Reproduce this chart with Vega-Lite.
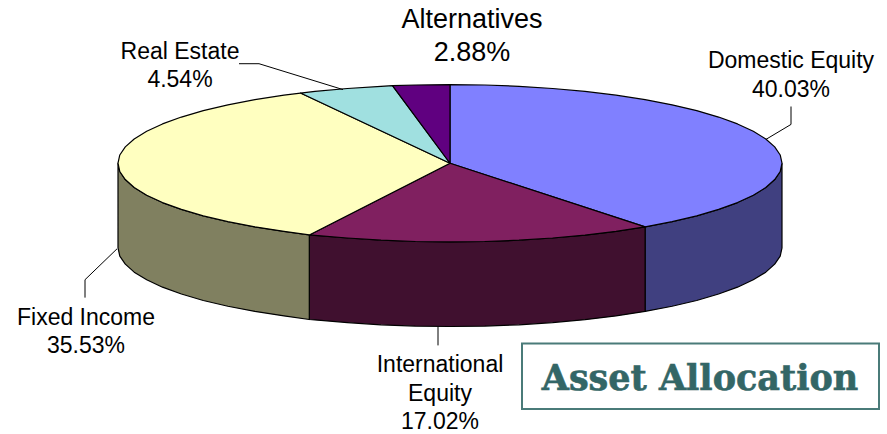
{"$schema":"https://vega.github.io/schema/vega-lite/v6.json","width":887,"height":434,"autosize":{"type":"fit","contains":"padding"},"padding":0,"background":"white","view":{"stroke":null},
"datasets":{
"sides":[
{"slice":"Domestic Equity side","i":0,"x":782,"y":163},{"slice":"Domestic Equity side","i":1,"x":780.2,"y":171.3},{"slice":"Domestic Equity side","i":2,"x":774.7,"y":179.4},{"slice":"Domestic Equity side","i":3,"x":765.8,"y":187.4},{"slice":"Domestic Equity side","i":4,"x":753.3,"y":195.1},{"slice":"Domestic Equity side","i":5,"x":737.5,"y":202.5},{"slice":"Domestic Equity side","i":6,"x":718.6,"y":209.4},{"slice":"Domestic Equity side","i":7,"x":696.7,"y":215.9},{"slice":"Domestic Equity side","i":8,"x":672.1,"y":221.7},{"slice":"Domestic Equity side","i":9,"x":645.1,"y":226.9},{"slice":"Domestic Equity side","i":10,"x":645.1,"y":311.9},{"slice":"Domestic Equity side","i":11,"x":672.1,"y":306.7},{"slice":"Domestic Equity side","i":12,"x":696.7,"y":300.9},{"slice":"Domestic Equity side","i":13,"x":718.6,"y":294.4},{"slice":"Domestic Equity side","i":14,"x":737.5,"y":287.5},{"slice":"Domestic Equity side","i":15,"x":753.3,"y":280.1},{"slice":"Domestic Equity side","i":16,"x":765.8,"y":272.4},{"slice":"Domestic Equity side","i":17,"x":774.7,"y":264.4},{"slice":"Domestic Equity side","i":18,"x":780.2,"y":256.3},{"slice":"Domestic Equity side","i":19,"x":782,"y":248},{"slice":"Domestic Equity side","i":20,"x":782,"y":163},
{"slice":"International Equity side","i":0,"x":645.1,"y":226.9},{"slice":"International Equity side","i":1,"x":616,"y":231.4},{"slice":"International Equity side","i":2,"x":585,"y":235.2},{"slice":"International Equity side","i":3,"x":552.6,"y":238.1},{"slice":"International Equity side","i":4,"x":519,"y":240.3},{"slice":"International Equity side","i":5,"x":484.7,"y":241.6},{"slice":"International Equity side","i":6,"x":450,"y":242},{"slice":"International Equity side","i":7,"x":415.3,"y":241.6},{"slice":"International Equity side","i":8,"x":381,"y":240.3},{"slice":"International Equity side","i":9,"x":347.4,"y":238.1},{"slice":"International Equity side","i":10,"x":315,"y":235.4},{"slice":"International Equity side","i":11,"x":309.3,"y":235},{"slice":"International Equity side","i":12,"x":309.3,"y":320},{"slice":"International Equity side","i":13,"x":315,"y":320.4},{"slice":"International Equity side","i":14,"x":347.4,"y":323.1},{"slice":"International Equity side","i":15,"x":381,"y":325.3},{"slice":"International Equity side","i":16,"x":415.3,"y":326.6},{"slice":"International Equity side","i":17,"x":450,"y":327},{"slice":"International Equity side","i":18,"x":484.7,"y":326.6},{"slice":"International Equity side","i":19,"x":519,"y":325.3},{"slice":"International Equity side","i":20,"x":552.6,"y":323.1},{"slice":"International Equity side","i":21,"x":585,"y":320.2},{"slice":"International Equity side","i":22,"x":616,"y":316.4},{"slice":"International Equity side","i":23,"x":645.1,"y":311.9},{"slice":"International Equity side","i":24,"x":645.1,"y":226.9},
{"slice":"Fixed Income side","i":0,"x":309.3,"y":235},{"slice":"Fixed Income side","i":1,"x":284,"y":231.4},{"slice":"Fixed Income side","i":2,"x":254.9,"y":226.9},{"slice":"Fixed Income side","i":3,"x":227.9,"y":221.7},{"slice":"Fixed Income side","i":4,"x":203.3,"y":215.9},{"slice":"Fixed Income side","i":5,"x":181.4,"y":209.4},{"slice":"Fixed Income side","i":6,"x":162.5,"y":202.5},{"slice":"Fixed Income side","i":7,"x":146.7,"y":195.1},{"slice":"Fixed Income side","i":8,"x":134.2,"y":187.4},{"slice":"Fixed Income side","i":9,"x":125.3,"y":179.4},{"slice":"Fixed Income side","i":10,"x":119.8,"y":171.3},{"slice":"Fixed Income side","i":11,"x":118,"y":163},{"slice":"Fixed Income side","i":12,"x":118,"y":248},{"slice":"Fixed Income side","i":13,"x":119.8,"y":256.3},{"slice":"Fixed Income side","i":14,"x":125.3,"y":264.4},{"slice":"Fixed Income side","i":15,"x":134.2,"y":272.4},{"slice":"Fixed Income side","i":16,"x":146.7,"y":280.1},{"slice":"Fixed Income side","i":17,"x":162.5,"y":287.5},{"slice":"Fixed Income side","i":18,"x":181.4,"y":294.4},{"slice":"Fixed Income side","i":19,"x":203.3,"y":300.9},{"slice":"Fixed Income side","i":20,"x":227.9,"y":306.7},{"slice":"Fixed Income side","i":21,"x":254.9,"y":311.9},{"slice":"Fixed Income side","i":22,"x":284,"y":316.4},{"slice":"Fixed Income side","i":23,"x":309.3,"y":320},{"slice":"Fixed Income side","i":24,"x":309.3,"y":235}
],
"tops":[
{"slice":"Domestic Equity","i":0,"x":450,"y":163},{"slice":"Domestic Equity","i":1,"x":450,"y":84},{"slice":"Domestic Equity","i":2,"x":484.7,"y":84.4},{"slice":"Domestic Equity","i":3,"x":519,"y":85.7},{"slice":"Domestic Equity","i":4,"x":552.6,"y":87.9},{"slice":"Domestic Equity","i":5,"x":585,"y":90.8},{"slice":"Domestic Equity","i":6,"x":616,"y":94.6},{"slice":"Domestic Equity","i":7,"x":645.1,"y":99.1},{"slice":"Domestic Equity","i":8,"x":672.1,"y":104.3},{"slice":"Domestic Equity","i":9,"x":696.7,"y":110.1},{"slice":"Domestic Equity","i":10,"x":718.6,"y":116.6},{"slice":"Domestic Equity","i":11,"x":737.5,"y":123.5},{"slice":"Domestic Equity","i":12,"x":753.3,"y":130.9},{"slice":"Domestic Equity","i":13,"x":765.8,"y":138.6},{"slice":"Domestic Equity","i":14,"x":774.7,"y":146.6},{"slice":"Domestic Equity","i":15,"x":780.2,"y":154.7},{"slice":"Domestic Equity","i":16,"x":782,"y":163},{"slice":"Domestic Equity","i":17,"x":780.2,"y":171.3},{"slice":"Domestic Equity","i":18,"x":774.7,"y":179.4},{"slice":"Domestic Equity","i":19,"x":765.8,"y":187.4},{"slice":"Domestic Equity","i":20,"x":753.3,"y":195.1},{"slice":"Domestic Equity","i":21,"x":737.5,"y":202.5},{"slice":"Domestic Equity","i":22,"x":718.6,"y":209.4},{"slice":"Domestic Equity","i":23,"x":696.7,"y":215.9},{"slice":"Domestic Equity","i":24,"x":672.1,"y":221.7},{"slice":"Domestic Equity","i":25,"x":645.1,"y":226.9},{"slice":"Domestic Equity","i":26,"x":450,"y":163},
{"slice":"International Equity","i":0,"x":450,"y":163},{"slice":"International Equity","i":1,"x":645.1,"y":226.9},{"slice":"International Equity","i":2,"x":616,"y":231.4},{"slice":"International Equity","i":3,"x":585,"y":235.2},{"slice":"International Equity","i":4,"x":552.6,"y":238.1},{"slice":"International Equity","i":5,"x":519,"y":240.3},{"slice":"International Equity","i":6,"x":484.7,"y":241.6},{"slice":"International Equity","i":7,"x":450,"y":242},{"slice":"International Equity","i":8,"x":415.3,"y":241.6},{"slice":"International Equity","i":9,"x":381,"y":240.3},{"slice":"International Equity","i":10,"x":347.4,"y":238.1},{"slice":"International Equity","i":11,"x":315,"y":235.4},{"slice":"International Equity","i":12,"x":309.3,"y":235},{"slice":"International Equity","i":13,"x":450,"y":163},
{"slice":"Fixed Income","i":0,"x":450,"y":163},{"slice":"Fixed Income","i":1,"x":309.3,"y":235},{"slice":"Fixed Income","i":2,"x":284,"y":231.4},{"slice":"Fixed Income","i":3,"x":254.9,"y":226.9},{"slice":"Fixed Income","i":4,"x":227.9,"y":221.7},{"slice":"Fixed Income","i":5,"x":203.3,"y":215.9},{"slice":"Fixed Income","i":6,"x":181.4,"y":209.4},{"slice":"Fixed Income","i":7,"x":162.5,"y":202.5},{"slice":"Fixed Income","i":8,"x":146.7,"y":195.1},{"slice":"Fixed Income","i":9,"x":134.2,"y":187.4},{"slice":"Fixed Income","i":10,"x":125.3,"y":179.4},{"slice":"Fixed Income","i":11,"x":119.8,"y":171.3},{"slice":"Fixed Income","i":12,"x":118,"y":163},{"slice":"Fixed Income","i":13,"x":119.8,"y":154.7},{"slice":"Fixed Income","i":14,"x":125.3,"y":146.6},{"slice":"Fixed Income","i":15,"x":134.2,"y":138.6},{"slice":"Fixed Income","i":16,"x":146.7,"y":130.9},{"slice":"Fixed Income","i":17,"x":162.5,"y":123.5},{"slice":"Fixed Income","i":18,"x":181.4,"y":116.6},{"slice":"Fixed Income","i":19,"x":203.3,"y":110.1},{"slice":"Fixed Income","i":20,"x":227.9,"y":104.3},{"slice":"Fixed Income","i":21,"x":254.9,"y":99.1},{"slice":"Fixed Income","i":22,"x":284,"y":94.6},{"slice":"Fixed Income","i":23,"x":300.5,"y":92.5},{"slice":"Fixed Income","i":24,"x":450,"y":163},
{"slice":"Real Estate","i":0,"x":450,"y":163},{"slice":"Real Estate","i":1,"x":300.5,"y":92.5},{"slice":"Real Estate","i":2,"x":315,"y":90.8},{"slice":"Real Estate","i":3,"x":347.4,"y":87.9},{"slice":"Real Estate","i":4,"x":381,"y":85.7},{"slice":"Real Estate","i":5,"x":392.5,"y":85},{"slice":"Real Estate","i":6,"x":450,"y":163},
{"slice":"Alternatives","i":0,"x":450,"y":163},{"slice":"Alternatives","i":1,"x":392.5,"y":85},{"slice":"Alternatives","i":2,"x":415.3,"y":84.4},{"slice":"Alternatives","i":3,"x":450,"y":84},{"slice":"Alternatives","i":4,"x":450,"y":163}
],
"leaders":[
{"slice":"Domestic Equity","i":0,"x":766,"y":139},{"slice":"Domestic Equity","i":1,"x":791,"y":124},{"slice":"Domestic Equity","i":2,"x":791,"y":106},
{"slice":"Fixed Income","i":0,"x":117,"y":249},{"slice":"Fixed Income","i":1,"x":85,"y":280},{"slice":"Fixed Income","i":2,"x":85,"y":298},
{"slice":"International Equity","i":0,"x":438,"y":327},{"slice":"International Equity","i":1,"x":438,"y":346},
{"slice":"Real Estate","i":0,"x":239,"y":63},{"slice":"Real Estate","i":1,"x":259,"y":63},{"slice":"Real Estate","i":2,"x":343,"y":89}
],
"labels":[
{"t":"Alternatives","x":472,"y":27,"big":"y"},{"t":"2.88%","x":472,"y":60,"big":"y"},
{"t":"Domestic Equity","x":791,"y":67,"big":"n"},{"t":"40.03%","x":791,"y":96,"big":"n"},
{"t":"Real Estate","x":180,"y":58,"big":"n"},{"t":"4.54%","x":180,"y":86,"big":"n"},
{"t":"Fixed Income","x":86,"y":325.5,"big":"n"},{"t":"35.53%","x":86,"y":354,"big":"n"},
{"t":"International","x":440,"y":373,"big":"n"},{"t":"Equity","x":440,"y":401.5,"big":"n"},{"t":"17.02%","x":440,"y":430,"big":"n"}
]
},
"layer":[
{"data":{"name":"sides"},"mark":{"type":"line","filled":true,"stroke":"#000000","strokeWidth":1.2,"strokeJoin":"round"},
"encoding":{"x":{"field":"x","type":"quantitative","scale":{"domain":[0,887],"nice":false,"zero":false},"axis":null},"y":{"field":"y","type":"quantitative","scale":{"domain":[433,-1],"nice":false,"zero":false},"axis":null},"order":{"field":"i","type":"ordinal"},
"fill":{"field":"slice","type":"nominal","legend":null,"scale":{"domain":["Domestic Equity side","International Equity side","Fixed Income side"],"range":["#404080","#40102F","#808060"]}}}},
{"data":{"name":"tops"},"mark":{"type":"line","filled":true,"stroke":"#000000","strokeWidth":1.2,"strokeJoin":"round"},
"encoding":{"x":{"field":"x","type":"quantitative","axis":null},"y":{"field":"y","type":"quantitative","axis":null},"order":{"field":"i","type":"ordinal"},
"fill":{"field":"slice","type":"nominal","legend":null,"scale":{"domain":["Domestic Equity","International Equity","Fixed Income","Real Estate","Alternatives"],"range":["#8080FF","#802060","#FFFFC0","#A0E0E0","#600080"]}}}},
{"data":{"name":"leaders"},"mark":{"type":"line","stroke":"#000000","strokeWidth":1},
"encoding":{"x":{"field":"x","type":"quantitative","axis":null},"y":{"field":"y","type":"quantitative","axis":null},"order":{"field":"i","type":"ordinal"},"detail":{"field":"slice"}}},
{"data":{"name":"labels"},"transform":[{"filter":"datum.big == 'n'"}],"mark":{"type":"text","font":"Liberation Sans","fontSize":23,"align":"center","baseline":"alphabetic","fill":"#000000"},
"encoding":{"x":{"field":"x","type":"quantitative","axis":null},"y":{"field":"y","type":"quantitative","axis":null},"text":{"field":"t"}}},
{"data":{"name":"labels"},"transform":[{"filter":"datum.big == 'y'"}],"mark":{"type":"text","font":"Liberation Sans","fontSize":27,"align":"center","baseline":"alphabetic","fill":"#000000"},
"encoding":{"x":{"field":"x","type":"quantitative","axis":null},"y":{"field":"y","type":"quantitative","axis":null},"text":{"field":"t"}}},
{"data":{"values":[{"x":522,"x2":879,"y":344,"y2":410}]},"mark":{"type":"rect","fill":"#FFFFFF","stroke":"#4A7B79","strokeWidth":2},
"encoding":{"x":{"field":"x","type":"quantitative","axis":null},"x2":{"field":"x2"},"y":{"field":"y","type":"quantitative","axis":null},"y2":{"field":"y2"}}},
{"data":{"values":[{"t":"Asset Allocation","x":700,"y":391}]},"mark":{"type":"text","font":"DejaVu Serif","fontWeight":"bold","fontSize":35,"align":"center","baseline":"alphabetic","fill":"#336666","stroke":"#336666","strokeWidth":0.6},
"encoding":{"x":{"field":"x","type":"quantitative","axis":null},"y":{"field":"y","type":"quantitative","axis":null},"text":{"field":"t"}}}
],
"resolve":{"scale":{"fill":"independent"}},
"config":{"view":{"stroke":null}}}
